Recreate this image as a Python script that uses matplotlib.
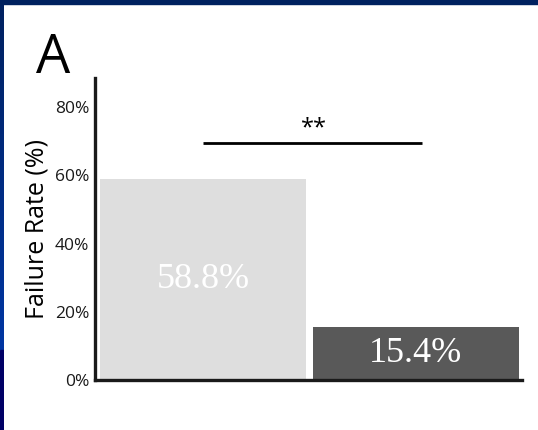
import numpy as np
import matplotlib
matplotlib.use('Agg')
from matplotlib import pyplot as plt
from matplotlib.patches import Rectangle
from matplotlib.colors import LinearSegmentedColormap

plt.rcParams['font.family'] = ['Open Sans', 'DejaVu Sans']

groups = ['Group 1', 'Group 2']
failure_rate = [58.8, 15.4]
bar_colors = ['#dedede', '#595959']
yticks = [0, 20, 40, 60, 80]
sig_label = '**'

fig = plt.figure(figsize=(5.38, 4.30), dpi=100, facecolor='white')

# slide frame: dark strip on top, gradient strip down the left edge
fig.patches.append(Rectangle((0, 1 - 4 / 430), 1, 4 / 430, transform=fig.transFigure,
                             color='#00215f', zorder=0))
edge = fig.add_axes([0, 0, 4 / 538, 1])
cmap = LinearSegmentedColormap.from_list('edge', ['#00215f', '#0036a3'])
grad = np.linspace(0, 1, 256).reshape(-1, 1)
edge.imshow(grad, aspect='auto', cmap=cmap, extent=[0, 1, 80 / 430, 1], origin='upper')
edge.add_patch(Rectangle((0, 0), 1, 80 / 430, color='#000066'))
edge.set_xlim(0, 1)
edge.set_ylim(0, 1)
edge.axis('off')

ax = fig.add_axes([95 / 538, 1 - 380 / 430, 427 / 538, 302 / 430])
x = np.arange(len(groups))
bars = ax.bar(x, failure_rate, width=0.967, color=bar_colors, zorder=2)
for xi, v in zip(x, failure_rate):
    ax.text(xi, v / 2, f'{v}%', ha='center', va='center', color='white',
            fontsize=26, family='Liberation Serif', zorder=3)

# significance bar
top = 69.5
ax.plot([0, 1.03], [top, top], color='black', lw=2, solid_capstyle='butt')
ax.text(0.52, top + 0.8, sig_label, ha='center', va='bottom', fontsize=17)

ax.set_xlim(-0.507, 1.498)
ax.set_ylim(0, 88.5)
ax.set_yticks(yticks)
ax.set_yticklabels([f'{t}%' for t in yticks], fontsize=12.5, color='#1a1a1a')
ax.tick_params(axis='y', length=0, pad=4)
ax.set_xticks([])
ax.set_ylabel('Failure Rate (%)', fontsize=18, labelpad=4)
for s in ['top', 'right']:
    ax.spines[s].set_visible(False)
for s in ['left', 'bottom']:
    ax.spines[s].set_linewidth(2.4)
    ax.spines[s].set_color('#1a1a1a')

fig.text(36 / 538, 1 - 73 / 430, 'A', fontsize=39, ha='left', va='baseline')

fig.savefig('out.png', dpi=100, facecolor='white')
